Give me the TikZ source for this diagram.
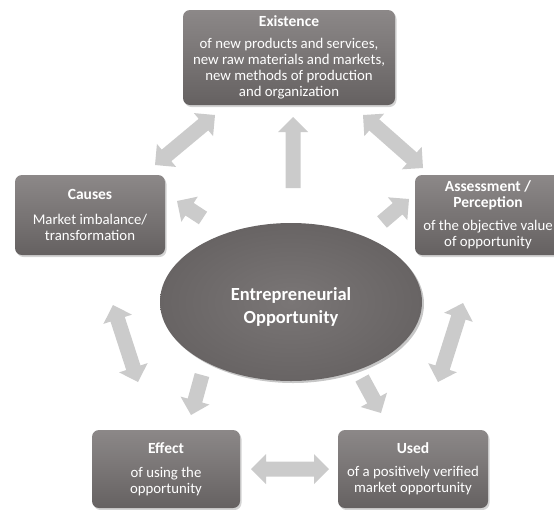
\documentclass[tikz,border=0pt]{standalone}
\usepackage{fontspec}
\setmainfont{Carlito}
\usetikzlibrary{calc,shapes.geometric,shadows}
\definecolor{boxtop}{HTML}{8C8888}
\definecolor{boxbot}{HTML}{656161}
\definecolor{ellin}{HTML}{7A7676}
\definecolor{ellout}{HTML}{686464}
\definecolor{arrgray}{HTML}{CBCBCB}
\newcommand{\hdfont}{\fontsize{15.5}{16.5}\selectfont\bfseries}
\newcommand{\sarrow}[2]{%
  \fill[arrowfill] ($(#1)!7.5pt!90:(#2)$)
   -- ($($(#2)!15pt!(#1)$)!7.5pt!-90:(#1)$)
   -- ($($(#2)!15pt!(#1)$)!15pt!-90:(#1)$)
   -- (#2)
   -- ($($(#2)!15pt!(#1)$)!15pt!90:(#1)$)
   -- ($($(#2)!15pt!(#1)$)!7.5pt!90:(#1)$)
   -- ($(#1)!7.5pt!-90:(#2)$) -- cycle;}
\newcommand{\darrow}[2]{%
  \fill[arrowfill] (#1)
   -- ($($(#1)!15pt!(#2)$)!15pt!90:(#2)$)
   -- ($($(#1)!15pt!(#2)$)!7.5pt!90:(#2)$)
   -- ($($(#2)!15pt!(#1)$)!7.5pt!-90:(#1)$)
   -- ($($(#2)!15pt!(#1)$)!15pt!-90:(#1)$)
   -- (#2)
   -- ($($(#2)!15pt!(#1)$)!15pt!90:(#1)$)
   -- ($($(#2)!15pt!(#1)$)!7.5pt!90:(#1)$)
   -- ($($(#1)!15pt!(#2)$)!7.5pt!-90:(#2)$)
   -- ($($(#1)!15pt!(#2)$)!15pt!-90:(#2)$) -- cycle;}
\begin{document}
\begin{tikzpicture}[x=1pt,y=-1pt,
  arrowfill/.style={fill=arrgray},
  infobox/.style={draw=none, rounded corners=7pt, top color=boxtop, bottom color=boxbot,
    text=white, align=center, inner sep=0pt,
    font=\fontsize{14.8}{16}\selectfont,
    drop shadow={opacity=0.35, shadow xshift=1.5pt, shadow yshift=-2pt}},
  centre/.style={ellipse, draw=none, inner color=ellin, outer color=ellout,
    minimum width=262pt, minimum height=158pt,
    drop shadow={opacity=0.45, shadow xshift=2pt, shadow yshift=-2pt}},
  centretext/.style={text=white, align=center, inner sep=0pt,
    font=\fontsize{18.5}{23}\selectfont\bfseries}]
\useasboundingbox (0,0) rectangle (554,509);
\clip (0,0) rectangle (554,509);

% arrow end points
\coordinate (a1s) at (155,165); \coordinate (a1e) at (215,115);
\coordinate (a2s) at (293,188); \coordinate (a2e) at (293,117);
\coordinate (a3s) at (363,115); \coordinate (a3e) at (423,168);
\coordinate (a4s) at (203,218); \coordinate (a4e) at (177,201);
\coordinate (a5s) at (382,222); \coordinate (a5e) at (409,199);
\coordinate (a6s) at (113,305); \coordinate (a6e) at (138,382);
\coordinate (a7s) at (202,375); \coordinate (a7e) at (191,415);
\coordinate (a8s) at (362,378); \coordinate (a8e) at (381,413);
\coordinate (a9s) at (463,303); \coordinate (a9e) at (438,382);
\coordinate (a10s) at (251,469); \coordinate (a10e) at (329,469);

\darrow{a1s}{a1e}
\sarrow{a2s}{a2e}
\darrow{a3s}{a3e}
\sarrow{a4s}{a4e}
\sarrow{a5s}{a5e}
\darrow{a6s}{a6e}
\sarrow{a7s}{a7e}
\sarrow{a8s}{a8e}
\darrow{a9s}{a9e}
\darrow{a10s}{a10e}

\node[infobox, minimum width=212pt, minimum height=95pt] (exist) at (289,57.5)
  {{\hdfont Existence}\\[6pt]of new products and services,\\new raw materials and markets,\\new methods of production\\and organization};
\node[infobox, minimum width=150pt, minimum height=80pt] (causes) at (90,215)
  {{\hdfont Causes}\\[9pt]Market imbalance/\\transformation};
\node[infobox, minimum width=146pt, minimum height=80pt] (assess) at (488,215)
  {{\hdfont Assessment /}\\{\hdfont Perception}\\[7pt]of the objective value\\of opportunity};
\node[infobox, minimum width=148pt, minimum height=78pt] (effect) at (166,469)
  {{\hdfont Effect}\\[8pt]of using the\\opportunity};
\node[infobox, minimum width=150pt, minimum height=78pt] (used) at (413,469)
  {{\hdfont Used}\\[7pt]of a positively verified\\market opportunity};

\node[centre] (eo) at (291,302) {};
\node[centretext] (eotext) at ($(eo.center)+(0,5)$) {Entrepreneurial\\Opportunity};
\end{tikzpicture}
\end{document}
